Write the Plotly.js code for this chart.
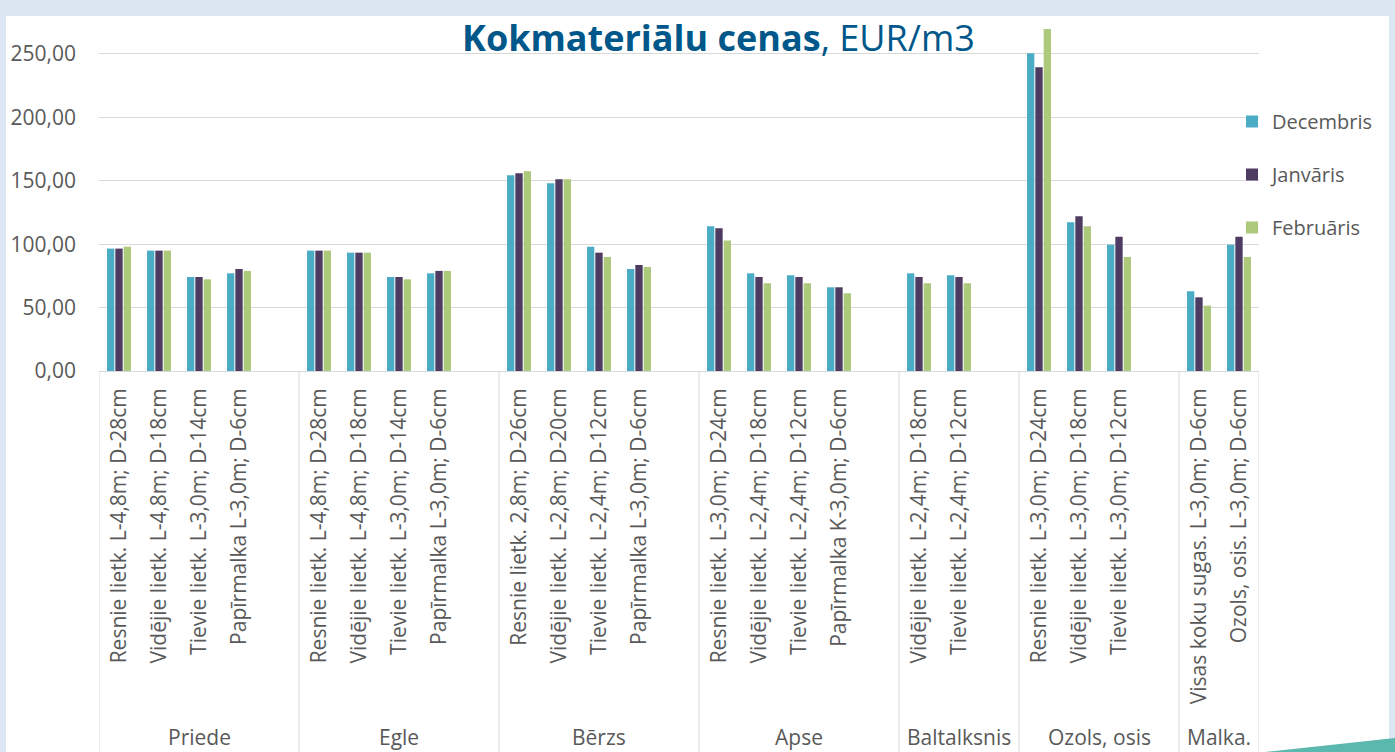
<!DOCTYPE html>
<html>
<head>
<meta charset="utf-8">
<script src="https://cdn.plot.ly/plotly-3.0.1.min.js"></script>
<style>html,body{margin:0;padding:0;background:#dde7f3;}#chart{width:1395px;height:752px;}</style>
</head>
<body>
<div id="chart"></div>
<script>
// ---- data ----
const groups = ['Priede', 'Egle', 'Bērzs', 'Apse', 'Baltalksnis', 'Ozols, osis', 'Malka.'];
const groupSizes = [4, 4, 4, 4, 2, 3, 2];
const categories = [
  'Resnie lietk. L-4,8m; D-28cm', 'Vidējie lietk. L-4,8m; D-18cm', 'Tievie lietk. L-3,0m; D-14cm', 'Papīrmalka L-3,0m; D-6cm',
  'Resnie lietk. L-4,8m; D-28cm', 'Vidējie lietk. L-4,8m; D-18cm', 'Tievie lietk. L-3,0m; D-14cm', 'Papīrmalka L-3,0m; D-6cm',
  'Resnie lietk. 2,8m; D-26cm', 'Vidējie lietk. L-2,8m; D-20cm', 'Tievie lietk. L-2,4m; D-12cm', 'Papīrmalka L-3,0m; D-6cm',
  'Resnie lietk. L-3,0m; D-24cm', 'Vidējie lietk. L-2,4m; D-18cm', 'Tievie lietk. L-2,4m; D-12cm', 'Papīrmalka K-3,0m; D-6cm',
  'Vidējie lietk. L-2,4m; D-18cm', 'Tievie lietk. L-2,4m; D-12cm',
  'Resnie lietk. L-3,0m; D-24cm', 'Vidējie lietk. L-3,0m; D-18cm', 'Tievie lietk. L-3,0m; D-12cm',
  'Visas koku sugas. L-3,0m; D-6cm', 'Ozols, osis. L-3,0m; D-6cm'
];
const decembris = [96.5, 94.9, 74.1, 77.0, 94.9, 93.3, 74.1, 77.0, 154.3, 148.0, 98.0, 80.4, 114.1, 77.0, 75.5, 66.0, 77.0, 75.5, 250.5, 117.3, 99.6, 62.9, 99.6];
const janvaris  = [96.5, 94.9, 74.1, 80.4, 94.9, 93.3, 74.1, 78.9, 155.9, 151.2, 93.3, 83.6, 112.5, 74.1, 74.1, 66.0, 74.1, 74.1, 239.5, 122.0, 105.9, 58.1, 105.9];
const februaris = [98.0, 94.9, 72.3, 78.9, 94.9, 93.3, 72.3, 78.9, 157.5, 151.2, 89.9, 82.0, 102.8, 69.2, 69.2, 61.3, 69.2, 69.2, 269.7, 114.1, 89.9, 51.5, 89.9];
const seriesNames = ['Decembris', 'Janvāris', 'Februāris'];
const seriesColors = ['#4bacc6', '#4e3b62', '#adc97b'];
const yTicks = [0, 50, 100, 150, 200, 250];

// ---- layout helpers (slot positions: one empty slot after each group except the last) ----
const xPos = [];
const groupStart = [];
const groupEnd = [];
let slot = 0;
groupSizes.forEach((n, g) => {
  groupStart.push(slot - 0.5);
  for (let i = 0; i < n; i++) { xPos.push(slot); slot++; }
  if (g < groupSizes.length - 1) slot++;
  groupEnd.push(slot - 0.5);
});
const totalSlots = slot;

// pixel -> paper helpers for decoration
const W = 1395, H = 752;
const mL = 99, mR = W - 1259, mT = 26, mB = H - 371;
const pw = W - mL - mR, ph = H - mT - mB;
const px = v => (v - mL) / pw;
const py = v => (H - mB - v) / ph;

const values = [decembris, janvaris, februaris];
const traces = values.map((vals, i) => ({
  type: 'bar',
  name: seriesNames[i],
  x: xPos,
  y: vals,
  marker: {color: seriesColors[i]},
  legendgroup: 'g' + i,
  hoverinfo: 'y+name'
}));

const shapes = [
  {type: 'rect', xref: 'paper', yref: 'paper', x0: px(6), x1: px(1389), y0: py(16), y1: py(752),
   fillcolor: '#ffffff', line: {width: 0}, layer: 'below'},
  {type: 'path', xref: 'paper', yref: 'paper',
   path: `M ${px(1265)} ${py(752)} L ${px(1395)} ${py(738)} L ${px(1395)} ${py(752)} Z`,
   fillcolor: '#5bb8ae', line: {width: 0}}
];
const bounds = [groupStart[0]].concat(groupEnd);
bounds.forEach(b => {
  shapes.push({type: 'line', xref: 'x', yref: 'paper', x0: b, x1: b, y0: 0, y1: py(752),
    line: {color: '#d9d9d9', width: 1}});
});

const annotations = groups.map((g, i) => ({
  text: g, xref: 'x', yref: 'paper', x: (groupStart[i] + groupEnd[i]) / 2, y: py(737),
  xanchor: 'center', yanchor: 'middle', showarrow: false,
  font: {family: 'Open Sans', size: 21, color: '#595959'}
}));

const layout = {
  width: W, height: H,
  margin: {l: mL, r: mR, t: mT, b: mB, pad: 0},
  paper_bgcolor: '#dde7f3',
  plot_bgcolor: '#ffffff',
  separators: ', ',
  barmode: 'group',
  bargap: 0.375,
  bargroupgap: 0.12,
  title: {
    text: '<b>Kokmateriālu cenas</b>, EUR/m3',
    font: {family: 'Open Sans', size: 36, color: '#00578a'},
    x: 462 / W, xanchor: 'left', xref: 'container',
    y: 1 - 26 / H, yanchor: 'top', yref: 'container'
  },
  xaxis: {
    range: [-0.5, totalSlots - 0.5],
    tickvals: xPos, ticktext: categories, tickangle: -90,
    tickfont: {family: 'Open Sans', size: 21, color: '#595959'},
    showgrid: false, zeroline: false, showline: false, ticks: '',
    ticklabelstandoff: 12, automargin: false, fixedrange: true
  },
  yaxis: {
    range: [0, 272],
    tickvals: yTicks, tickformat: '.2f',
    tickfont: {family: 'Open Sans', size: 21, color: '#595959'},
    showgrid: true, gridcolor: '#d9d9d9', gridwidth: 1,
    zeroline: true, zerolinecolor: '#d9d9d9', zerolinewidth: 1,
    showline: false, ticks: '', ticklabelstandoff: 22, automargin: false, fixedrange: true
  },
  legend: {
    x: px(1232), xanchor: 'left', y: py(102), yanchor: 'top',
    font: {family: 'Open Sans', size: 20, color: '#595959'},
    bgcolor: 'rgba(0,0,0,0)', tracegroupgap: 24, traceorder: 'grouped'
  },
  shapes: shapes,
  annotations: annotations,
  showlegend: true
};

Plotly.newPlot('chart', traces, layout, {displayModeBar: false, staticPlot: true});
</script>
</body>
</html>
